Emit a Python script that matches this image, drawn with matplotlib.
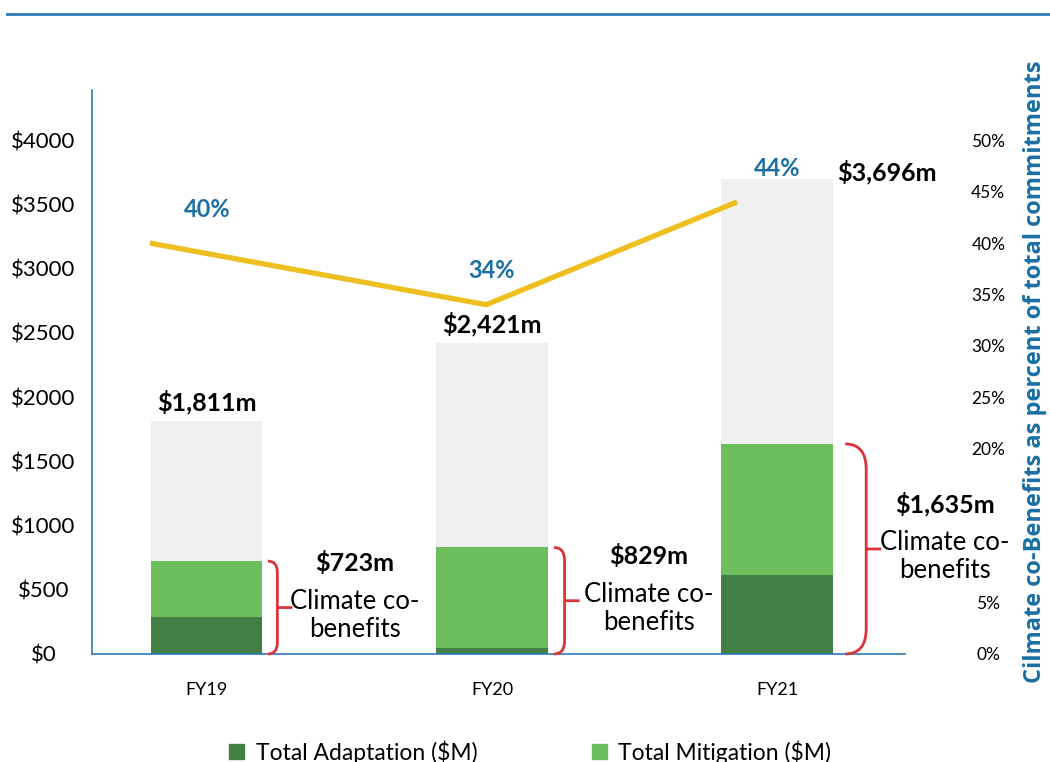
import numpy as np
import matplotlib.pyplot as plt
from matplotlib.path import Path
from matplotlib.patches import PathPatch, Patch
from matplotlib.lines import Line2D

# data
years = ['FY19', 'FY20', 'FY21']
total = [1811, 2421, 3696]
adaptation = [290, 45, 613]
mitigation = [433, 784, 1022]
climate = [723, 829, 1635]
pct_cobenefits = [40, 34, 44]
usd_ticks = [0, 500, 1000, 1500, 2000, 2500, 3000, 3500, 4000]
pct_ticks = [0, 5, 20, 25, 30, 35, 40, 45, 50]  # 10% and 15% sit behind the FY21 note

dark_green = '#417f45'
light_green = '#6dbf5e'
grey = '#f0f0f0'
blue = '#1a6fa3'
spine_blue = '#2a7ab5'
yellow = '#efbf1f'
red = '#d8333a'

plt.rcParams['font.family'] = ['Lato', 'DejaVu Sans']

fig = plt.figure(figsize=(10.5, 7.62), dpi=100)
ax = fig.add_axes([92 / 1050, 1 - 654 / 762, (905 - 92) / 1050, (654 - 90) / 762])
ax2 = ax.twinx()

x = np.arange(len(years))
w = 0.39
rest = [t - c for t, c in zip(total, climate)]
ax.bar(x, adaptation, w, color=dark_green, zorder=2)
ax.bar(x, mitigation, w, bottom=adaptation, color=light_green, zorder=2)
ax.bar(x, rest, w, bottom=climate, color=grey, zorder=2)

ax.set_xlim(-0.403, 2.449)
ax.set_ylim(0, 4390)
ax2.set_ylim(0, 54.9)

for s in ['top', 'right']:
    ax.spines[s].set_visible(False)
for s in ['top', 'right', 'left', 'bottom']:
    ax2.spines[s].set_visible(False)
ax.spines['left'].set_color(spine_blue)
ax.spines['bottom'].set_color(spine_blue)
ax.spines['left'].set_linewidth(1.2)
ax.spines['bottom'].set_linewidth(1.2)

ax.set_yticks(usd_ticks)
ax.set_yticklabels(['$' + str(v) for v in usd_ticks])
ax.tick_params(axis='y', length=0, pad=35, labelsize=16)
for lab in ax.get_yticklabels():
    lab.set_horizontalalignment('center')
ax.set_xticks(x)
ax.set_xticklabels(years)
ax.tick_params(axis='x', length=0, pad=20, labelsize=13)

ax2.set_yticks(pct_ticks)
ax2.set_yticklabels([str(v) + '%' for v in pct_ticks])
ax2.tick_params(axis='y', length=0, pad=60, labelsize=12.5)
for lab in ax2.get_yticklabels():
    lab.set_horizontalalignment('center')
ax2.set_ylabel('Cilmate co-Benefits as percent of total commitments', color=blue,
               fontsize=17, fontweight='bold', family=['Open Sans', 'DejaVu Sans'],
               labelpad=13)

# yellow line, points sit a little left of the bar centres in the original
line_shift = [-0.2, -0.02, -0.14]
ax2.plot(x + np.array(line_shift), pct_cobenefits, color=yellow, lw=3.8,
         solid_capstyle='butt', zorder=3)
for i, p in enumerate(pct_cobenefits):
    ax2.text(x[i], p + 3.3, f'{p}%', color=blue, fontsize=17, fontweight='bold',
             ha='center', va='center')

# totals above bars
px_y = 564 / 4390  # pixels per $ on left axis
px_x = 813 / 2.852
for i, t in enumerate(total):
    if i == 2:
        ax.text(x[i] + w / 2 + 5 / px_x, t + 7 / px_y, f'${t:,}m', fontsize=18,
                fontweight='bold', ha='left', va='center')
    else:
        ax.text(x[i], t + 19 / px_y, f'${t:,}m', fontsize=18,
                fontweight='bold', ha='center', va='center')

# red braces and notes
note_dx = [0.52, 0.55, 0.59]
for i, c in enumerate(climate):
    h = c * px_y
    gap = 0.06 * h / px_x
    dx = 0.1 * h / px_x
    ry = 0.12 * h / px_y
    tip = 15 / px_x
    x0 = x[i] + w / 2 + gap
    y0, y1 = 0, c
    ym = (y0 + y1) / 2
    verts = [(x0, y1), (x0 + dx, y1), (x0 + dx, y1 - ry),
             (x0 + dx, y0 + ry), (x0 + dx, y0), (x0, y0),
             (x0 + dx, ym), (x0 + dx + tip, ym)]
    codes = [Path.MOVETO, Path.CURVE3, Path.CURVE3,
             Path.LINETO, Path.CURVE3, Path.CURVE3,
             Path.MOVETO, Path.LINETO]
    ax.add_patch(PathPatch(Path(verts, codes), fill=False, edgecolor=red, lw=2,
                           zorder=4, clip_on=False))
    tx = x[i] + note_dx[i]
    ax.text(tx, ym - 8 / px_y, 'Climate co-\nbenefits', fontsize=18.5, ha='center',
            va='center', linespacing=1.15, zorder=5)
    ax.text(tx, ym + 45 / px_y, f'${c:,}m', fontsize=18, fontweight='bold',
            ha='center', va='center', zorder=5)

# top rule
fig.add_artist(Line2D([7 / 1050, 1], [1 - 14 / 762] * 2, color=spine_blue, lw=2))

handles = [Patch(color=dark_green, label='Total Adaptation ($M)'),
           Patch(color=light_green, label='Total Mitigation ($M)')]
fig.legend(handles=handles, loc='center', bbox_to_anchor=(0.505, 0.013), ncol=2,
           frameon=False, fontsize=16.5, columnspacing=5.0, handlelength=0.65,
           handleheight=0.65, handletextpad=0.5)

fig.savefig('out.png', dpi=100)
